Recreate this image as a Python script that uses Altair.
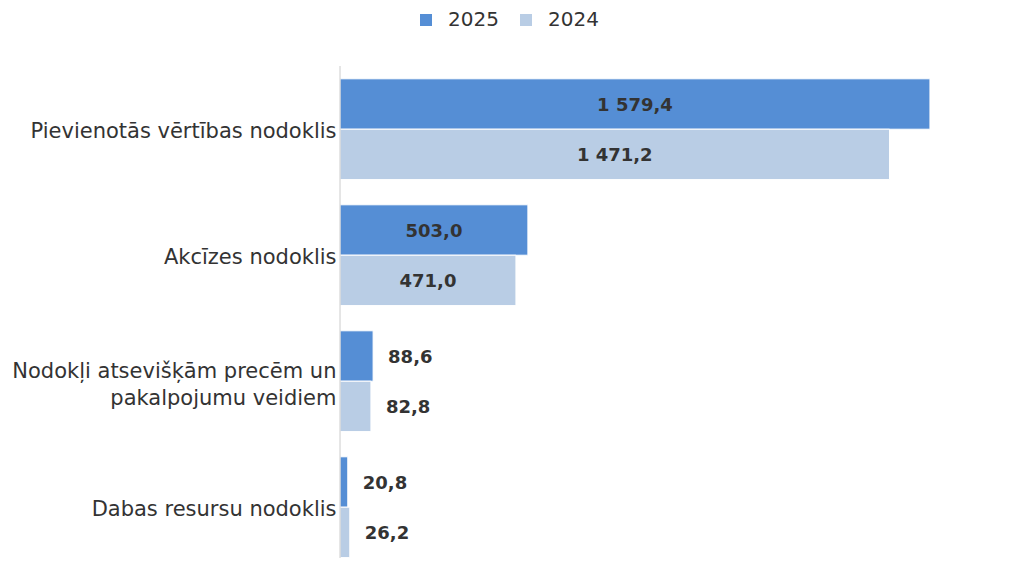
import altair as alt
import pandas as pd

categories = [
    "Pievienotās vērtības nodoklis",
    "Akcīzes nodoklis",
    "Nodokļi atsevišķām precēm un pakalpojumu veidiem",
    "Dabas resursu nodoklis",
]
years = ["2025", "2024"]
values_2025 = [1579.4, 503.0, 88.6, 20.8]
values_2024 = [1471.2, 471.0, 82.8, 26.2]
colors = ["#558ED5", "#B9CDE5"]

rows = []
for c, a, b in zip(categories, values_2025, values_2024):
    rows.append({"kategorija": c, "gads": "2025", "vertiba": a})
    rows.append({"kategorija": c, "gads": "2024", "vertiba": b})
df = pd.DataFrame(rows)

FONT = "DejaVu Sans"
W, H = 635, 492

y_enc = alt.Y(
    "kategorija:N",
    sort=categories,
    title=None,
    scale=alt.Scale(paddingInner=0.2, paddingOuter=0.0524, align=0.97),
    axis=alt.Axis(
        ticks=False,
        domain=False,
        labelFontSize=21,
        labelFont=FONT,
        labelColor="#333333",
        labelPadding=4,
        labelLimit=400,
        labelLineHeight=27,
        labelOffset={"expr": "length(datum.value) > 35 ? -9 : 3"},
        labelExpr="datum.label == 'Nodokļi atsevišķām precēm un pakalpojumu veidiem' ? ['Nodokļi atsevišķām precēm un', 'pakalpojumu veidiem'] : datum.label",
    ),
)
yoff = alt.YOffset("gads:N", sort=years)
x_scale = alt.Scale(domain=[0, 1700], nice=False)

base = alt.Chart(df)

bars = base.mark_bar(stroke="white", strokeWidth=1).encode(
    y=y_enc,
    yOffset=yoff,
    x=alt.X("vertiba:Q", scale=x_scale, axis=None),
    color=alt.Color(
        "gads:N",
        sort=years,
        scale=alt.Scale(domain=years, range=colors),
        legend=alt.Legend(
            title=None,
            orient="none",
            direction="horizontal",
            legendX=76,
            legendY=-56,
            symbolType="square",
            symbolSize=144,
            symbolStrokeWidth=0,
            labelFontSize=20,
            labelFont=FONT,
            labelColor="#333333",
            labelOffset=12,
            columnPadding=17,
            padding=0,
        ),
    ),
)

inside = base.transform_filter("datum.vertiba > 200").transform_calculate(
    mid="datum.vertiba / 2"
).mark_text(
    font=FONT, fontSize=18, fontWeight="bold", color="#333333", align="center", baseline="middle", dy=2
).encode(
    y=y_enc,
    yOffset=yoff,
    x=alt.X("mid:Q", scale=x_scale),
    text=alt.Text("vertiba:Q", format=",.1f"),
)

outside = base.transform_filter("datum.vertiba <= 200").mark_text(
    font=FONT, fontSize=18, fontWeight="bold", color="#333333", align="left", baseline="middle", dx=15, dy=2
).encode(
    y=y_enc,
    yOffset=yoff,
    x=alt.X("vertiba:Q", scale=x_scale),
    text=alt.Text("vertiba:Q", format=",.1f"),
)

axis_line = alt.Chart(pd.DataFrame({"x0": [0]})).mark_rule(color="#cccccc", strokeWidth=1).encode(
    x=alt.X("x0:Q", scale=x_scale),
    y=alt.value(0),
    y2=alt.value(H + 10),
)

chart = (
    alt.layer(bars, inside, outside, axis_line)
    .properties(
        width=W,
        height=H,
        autosize=alt.AutoSizeParams(type="none"),
        padding={"left": 332, "top": 58, "right": 50, "bottom": 0},
    )
    .configure(locale={"number": {"decimal": ",", "thousands": " ", "grouping": [3], "currency": ["", " €"]}})
    .configure_view(stroke="transparent", strokeWidth=0)
)

chart.save("out.html", embed_options={"renderer": "svg", "actions": False})
